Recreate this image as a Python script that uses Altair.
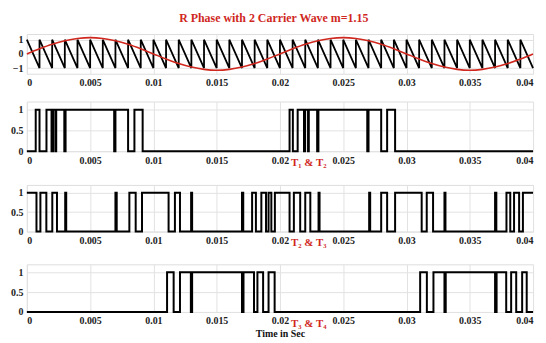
import altair as alt
import pandas as pd

# ---------------- data ----------------
x_ticks = [0, 0.005, 0.01, 0.015, 0.02, 0.025, 0.03, 0.035, 0.04]
t_end = 0.04

# reference sine (m = 1.15), sampled every 1 ms
sine_t = [0.000, 0.001, 0.002, 0.003, 0.004, 0.005, 0.006, 0.007, 0.008, 0.009,
          0.010, 0.011, 0.012, 0.013, 0.014, 0.015, 0.016, 0.017, 0.018, 0.019,
          0.020, 0.021, 0.022, 0.023, 0.024, 0.025, 0.026, 0.027, 0.028, 0.029,
          0.030, 0.031, 0.032, 0.033, 0.034, 0.035, 0.036, 0.037, 0.038, 0.039,
          0.040]
sine_v = [0.00, 0.36, 0.68, 0.93, 1.09, 1.15, 1.09, 0.93, 0.68, 0.36,
          0.00, -0.36, -0.68, -0.93, -1.09, -1.15, -1.09, -0.93, -0.68, -0.36,
          0.00, 0.36, 0.68, 0.93, 1.09, 1.15, 1.09, 0.93, 0.68, 0.36,
          0.00, -0.36, -0.68, -0.93, -1.09, -1.15, -1.09, -0.93, -0.68, -0.36,
          0.00]

# sawtooth carrier: tooth start / end times, top and bottom levels
carrier_start = [0.000, 0.001, 0.002, 0.003, 0.004, 0.005, 0.006, 0.007, 0.008, 0.009,
                 0.010, 0.011, 0.012, 0.013, 0.014, 0.015, 0.016, 0.017, 0.018, 0.019,
                 0.020, 0.021, 0.022, 0.023, 0.024, 0.025, 0.026, 0.027, 0.028, 0.029,
                 0.030, 0.031, 0.032, 0.033, 0.034, 0.035, 0.036, 0.037, 0.038, 0.039]
carrier_end = [0.001, 0.002, 0.003, 0.004, 0.005, 0.006, 0.007, 0.008, 0.009, 0.010,
               0.011, 0.012, 0.013, 0.014, 0.015, 0.016, 0.017, 0.018, 0.019, 0.020,
               0.021, 0.022, 0.023, 0.024, 0.025, 0.026, 0.027, 0.028, 0.029, 0.030,
               0.031, 0.032, 0.033, 0.034, 0.035, 0.036, 0.037, 0.038, 0.039, 0.040]
carrier_top = 1
carrier_bottom = -1

# gate pulses (on / off times of each high interval)
t12_on = [0.00070, 0.00155, 0.00207, 0.00232, 0.00306, 0.00700, 0.00850,
          0.02076, 0.02140, 0.02199, 0.02228, 0.02304, 0.02700, 0.02847]
t12_off = [0.00100, 0.00195, 0.00225, 0.00296, 0.00690, 0.00800, 0.00915,
           0.02102, 0.02190, 0.02222, 0.02294, 0.02690, 0.02800, 0.02910]

t23_on = [0.00000, 0.00107, 0.00201, 0.00303, 0.00700, 0.00810, 0.00910, 0.01170,
          0.01298, 0.01700, 0.01780, 0.01853, 0.01910, 0.01960,
          0.02110, 0.02200, 0.02305, 0.02705, 0.02800, 0.02910, 0.03160,
          0.03300, 0.03700, 0.03790, 0.03850, 0.03920]
t23_off = [0.00076, 0.00154, 0.00238, 0.00311, 0.00710, 0.00860, 0.01120, 0.01210,
           0.01306, 0.01710, 0.01810, 0.01890, 0.01932, 0.02076,
           0.02160, 0.02240, 0.02313, 0.02713, 0.02847, 0.03120, 0.03210,
           0.03308, 0.03710, 0.03820, 0.03890, 0.04000]

t34_on = [0.01108, 0.01210, 0.01306, 0.01712, 0.01822, 0.01910,
          0.03108, 0.03213, 0.03310, 0.03712, 0.03827, 0.03914]
t34_off = [0.01160, 0.01296, 0.01700, 0.01795, 0.01867, 0.01958,
           0.03161, 0.03300, 0.03700, 0.03788, 0.03867, 0.03950]

panel_labels = ["T\u2081 & T\u2082", "T\u2082 & T\u2083", "T\u2083 & T\u2084"]

# ---------------- styling ----------------
RED = "#d0281e"
SERIF = "Liberation Serif"
W = 510
AX = dict(labelFont=SERIF, labelFontWeight="bold", labelFontSize=10,
          labelColor="#222222", gridColor="#e2e2e2", domain=False, ticks=False)


def pulse_table(on, off):
    rows = []
    if on[0] > 0:
        rows.append((0.0, 0))
    for a, b in zip(on, off):
        if a > 0:
            rows.append((a, 0))
        rows.append((a, 1))
        rows.append((b, 1))
        if b < t_end:
            rows.append((b, 0))
    if rows[-1][0] < t_end:
        rows.append((t_end, 0))
    return pd.DataFrame({"t": [r[0] for r in rows], "v": [r[1] for r in rows],
                         "i": list(range(len(rows)))})


saw_rows = []
for s, e in zip(carrier_start, carrier_end):
    saw_rows.append((s, carrier_top))
    saw_rows.append((e, carrier_bottom))
saw_df = pd.DataFrame({"t": [r[0] for r in saw_rows], "v": [r[1] for r in saw_rows],
                       "i": list(range(len(saw_rows)))})
sine_df = pd.DataFrame({"t": sine_t, "v": sine_v})


def x_enc(extent, title=None):
    kw = dict(AX)
    if title is not None:
        kw.update(title=title, titleFont=SERIF, titleFontWeight="bold", titleFontSize=10,
                  titleColor="#111111", titlePadding=3)
    else:
        kw.update(title=None)
    ax = alt.Axis(values=x_ticks, format="~g", labelPadding=4, grid=True,
                  minExtent=extent, maxExtent=extent, **kw)
    return alt.X("t:Q", scale=alt.Scale(domain=[0, t_end], nice=False), axis=ax)


def y_axis(vals):
    return alt.Axis(values=vals, format="~g", title=None, labelPadding=4,
                    minExtent=16, maxExtent=16, **AX)


y_top = alt.Y("v:Q", scale=alt.Scale(domain=[-1.4, 1.4], nice=False),
              axis=y_axis([-1, 0, 1]))

saw = alt.Chart(saw_df).mark_line(color="black", strokeWidth=1.8).encode(
    x=x_enc(14), y=y_top, order="i:Q")
sine = alt.Chart(sine_df).mark_line(color=RED, strokeWidth=1.6,
                                    interpolate="monotone").encode(x=x_enc(14), y=y_top)
p1 = alt.layer(saw, sine).properties(width=W, height=40)


def pulse_panel(on, off, label, h, extent, title=None):
    df = pulse_table(on, off)
    y = alt.Y("v:Q", scale=alt.Scale(domain=[0, 1.2], nice=False),
              axis=y_axis([0, 0.5, 1]))
    line = alt.Chart(df).mark_line(color="black", strokeWidth=2).encode(
        x=x_enc(extent, title), y=y, order="i:Q")
    txt = alt.Chart(pd.DataFrame({"s": [label]})).mark_text(
        color=RED, font=SERIF, fontWeight="bold", fontSize=11, align="center",
        baseline="alphabetic").encode(text="s:N", x=alt.value(284), y=alt.value(h + 15))
    return alt.layer(line, txt).properties(width=W, height=h)


p2 = pulse_panel(t12_on, t12_off, panel_labels[0], 50, 20)
p3 = pulse_panel(t23_on, t23_off, panel_labels[1], 47, 19)
p4 = pulse_panel(t34_on, t34_off, panel_labels[2], 48, 14, title="Time in Sec")

chart = alt.vconcat(p1, p2, p3, p4, spacing=12).properties(
    title=alt.TitleParams("R Phase with 2 Carrier Wave m=1.15", color=RED, font=SERIF,
                          fontSize=12, fontWeight="bold", anchor="middle", offset=9),
    padding={"left": 2, "top": 2, "right": 0, "bottom": 0},
).configure_view(stroke="#b0b0b0", strokeWidth=1).configure(background="white")

chart.save("out.html", embed_options={"renderer": "svg", "actions": False})
